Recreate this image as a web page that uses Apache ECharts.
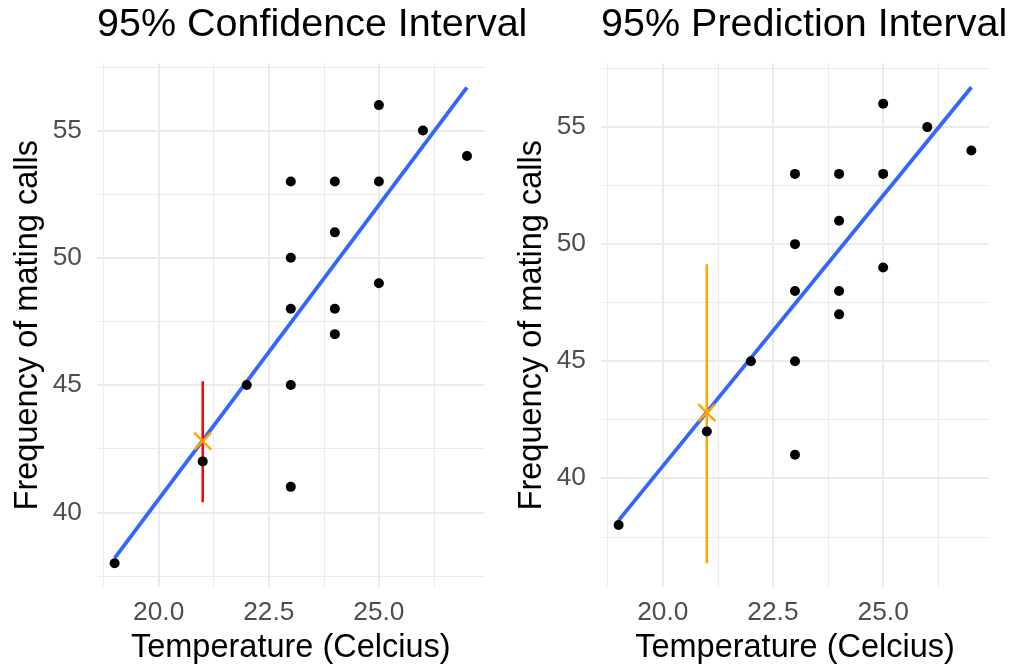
<!DOCTYPE html>
<html>
<head>
<meta charset="utf-8">
<script src="https://cdn.jsdelivr.net/npm/echarts@6/dist/echarts.min.js"></script>
<style>
  html, body { margin: 0; padding: 0; background: #fff; }
  #chart { width: 1014px; height: 670px; }
</style>
</head>
<body>
<div id="chart"></div>
<script>
// frog data: temperature vs mating call frequency
const tempC = [19, 21, 22, 23, 23, 23, 23, 23, 24, 24, 24, 24, 25, 25, 25, 26, 27]
const callFreq = [38, 42, 45, 53, 50, 48, 45, 41, 53, 51, 48, 47, 56, 53, 49, 55, 54]
// fitted line ends
const fitX = [19, 27]
const fitY = [38.2, 56.7]
// new observation at 21 degrees
const newTemp = 21
const predFit = 42.8
const confInt = [40.4, 45.15]
const predInt = [36.37, 49.14]
// breaks
const xBreaks = [20, 22.5, 25]
const xMinor = [18.75, 21.25, 23.75, 26.25]
const yBreaks = [40, 45, 50, 55]
const yMinor = [37.5, 42.5, 47.5, 52.5, 57.5]

const FONT = 'Liberation Sans'
const GRID_COL = '#EBEBEB'

// ggplot style 5% expansion
function pad(vals) {
  const lo = Math.min(...vals)
  const hi = Math.max(...vals)
  const d = (hi - lo) * 0.05
  return [lo - d, hi + d]
}

const xRange = pad(tempC.concat(fitX))
const yLeft = pad(callFreq.concat(fitY, confInt))
const yRight = pad(callFreq.concat(fitY, predInt))

const points = tempC.map((t, i) => [t, callFreq[i]])
const fitLine = fitX.map((t, i) => [t, fitY[i]])

function xAxes(grid) {
  return [
    {
      type: 'value', gridIndex: grid, min: xRange[0], max: xRange[1],
      name: 'Temperature (Celcius)', nameLocation: 'middle', nameGap: 45,
      nameTextStyle: { fontFamily: FONT, fontSize: 32.5, color: '#000' },
      axisLine: { show: false },
      axisTick: { show: false, customValues: xBreaks },
      axisLabel: {
        customValues: xBreaks, margin: 13,
        formatter: v => v.toFixed(1),
        fontFamily: FONT, fontSize: 26.3, color: '#4D4D4D'
      },
      splitLine: { show: true, lineStyle: { color: GRID_COL, width: 2 } }
    },
    {
      type: 'value', gridIndex: grid, min: xRange[0], max: xRange[1],
      axisLine: { show: false },
      axisTick: { show: false, customValues: xMinor },
      axisLabel: { show: false },
      splitLine: { show: true, lineStyle: { color: GRID_COL, width: 1 } }
    }
  ]
}

function yAxes(grid, range) {
  return [
    {
      type: 'value', gridIndex: grid, min: range[0], max: range[1],
      name: 'Frequency of mating calls', nameLocation: 'middle', nameGap: 52,
      nameTextStyle: { fontFamily: FONT, fontSize: 32.5, color: '#000' },
      axisLine: { show: false },
      axisTick: { show: false, customValues: yBreaks },
      axisLabel: {
        customValues: yBreaks, margin: 15,
        fontFamily: FONT, fontSize: 26.3, color: '#4D4D4D'
      },
      splitLine: { show: true, lineStyle: { color: GRID_COL, width: 2 } }
    },
    {
      type: 'value', gridIndex: grid, min: range[0], max: range[1],
      axisLine: { show: false },
      axisTick: { show: false, customValues: yMinor },
      axisLabel: { show: false },
      splitLine: { show: true, lineStyle: { color: GRID_COL, width: 1 } }
    }
  ]
}

function panelSeries(ax, interval, intervalColor) {
  return [
    {
      type: 'line', xAxisIndex: ax, yAxisIndex: ax, data: fitLine,
      symbol: 'none', z: 2,
      lineStyle: { color: '#3366FF', width: 3.8 }
    },
    {
      type: 'line', xAxisIndex: ax, yAxisIndex: ax,
      data: interval.map(v => [newTemp, v]),
      symbol: 'none', z: 3,
      lineStyle: { color: intervalColor, width: 2.5 }
    },
    {
      type: 'scatter', xAxisIndex: ax, yAxisIndex: ax,
      data: [[newTemp, predFit]], z: 4,
      symbol: 'path://M0,0L10,10M10,0L0,10', symbolSize: 17,
      itemStyle: { color: 'transparent', borderColor: '#FFA500', borderWidth: 2.4, opacity: 1 }
    },
    {
      type: 'scatter', xAxisIndex: ax, yAxisIndex: ax, data: points,
      symbolSize: 10, z: 5,
      itemStyle: { color: '#000', opacity: 1 }
    }
  ]
}

const chart = echarts.init(document.getElementById('chart'))
chart.setOption({
  animation: false,
  title: [
    {
      text: '95% Confidence Interval', left: 97, top: 5, padding: 0,
      textStyle: { fontFamily: FONT, fontSize: 39.5, fontWeight: 'normal', color: '#000' }
    },
    {
      text: '95% Prediction Interval', left: 601, top: 5, padding: 0,
      textStyle: { fontFamily: FONT, fontSize: 39.5, fontWeight: 'normal', color: '#000' }
    }
  ],
  grid: [
    { left: 97, top: 63.5, width: 387.6, height: 524.5 },
    { left: 601, top: 63.5, width: 388, height: 524.5 }
  ],
  xAxis: xAxes(0).concat(xAxes(1)),
  yAxis: yAxes(0, yLeft).concat(yAxes(1, yRight)),
  series: panelSeries(0, confInt, '#FF0000').concat(panelSeries(2, predInt, '#FFA500'))
})
</script>
</body>
</html>
